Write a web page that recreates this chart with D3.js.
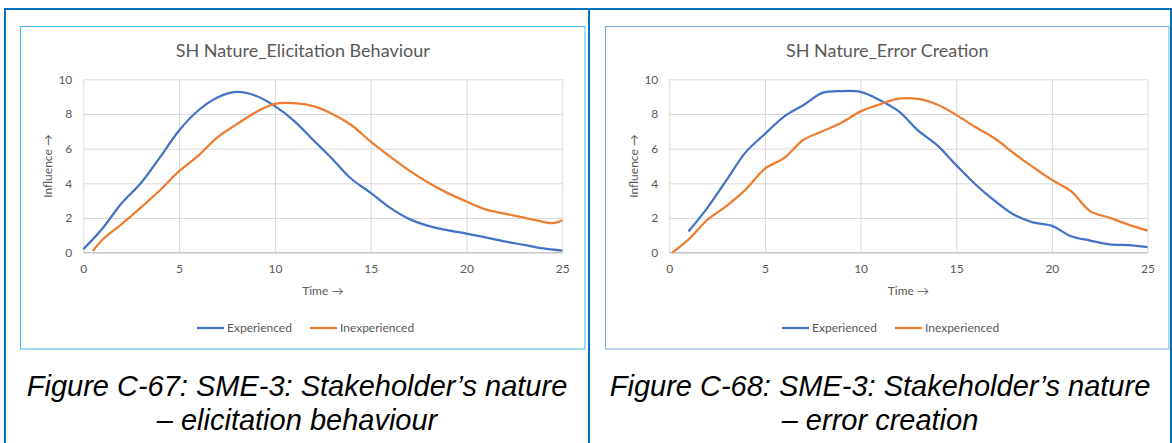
<!DOCTYPE html>
<html lang="en">
<head>
    <meta charset="UTF-8">
    <title>SH Nature</title>
    <script src="https://d3js.org/d3.v7.min.js"></script>
    <style>
        body { margin: 0; background: #fff; }
        .chart-text { font-family: Lato, "Open Sans", sans-serif; fill: #595959; }
        .grid line { stroke: #d9d9d9; stroke-width: 1; }
        .caption { font-family: "Liberation Sans", Arial, sans-serif; font-style: italic; fill: #000; }
    </style>
</head>
<body>
<script>
    const width = 1172;
    const height = 443;

    const xTicks = [0, 5, 10, 15, 20, 25];
    const yTicks = [0, 2, 4, 6, 8, 10];
    const seriesNames = ["Experienced", "Inexperienced"];
    const colors = ["#4472c4", "#ed7d31"];

    // chart 1: elicitation behaviour
    const elicitExpTime = [0, 1, 2, 3, 4, 5, 6, 7, 8, 9, 10, 11, 12, 13, 14, 15, 16, 17, 18, 19, 20, 21, 22, 23, 24, 25];
    const elicitExp = [0.2, 1.4, 2.85, 4.0, 5.5, 7.05, 8.2, 8.95, 9.27, 9.05, 8.45, 7.6, 6.5, 5.4, 4.25, 3.45, 2.6, 1.95, 1.55, 1.3, 1.1, 0.88, 0.65, 0.45, 0.25, 0.12];
    const elicitInexpTime = [0.5, 1, 2, 3, 4, 5, 6, 7, 8, 9, 10, 11, 12, 13, 14, 15, 16, 17, 18, 19, 20, 21, 22, 23, 24, 24.5, 25];
    const elicitInexp = [0.1, 0.75, 1.65, 2.6, 3.6, 4.7, 5.6, 6.65, 7.4, 8.1, 8.58, 8.62, 8.45, 8.0, 7.35, 6.4, 5.55, 4.75, 4.05, 3.45, 2.95, 2.5, 2.25, 2.02, 1.78, 1.7, 1.87];

    // chart 2: error creation
    const errorExpTime = [1, 2, 3, 4, 5, 6, 7, 8, 9, 10, 11, 12, 13, 14, 15, 16, 17, 18, 19, 20, 21, 22, 23, 24, 25];
    const errorExp = [1.22, 2.6, 4.2, 5.8, 6.85, 7.85, 8.5, 9.22, 9.32, 9.27, 8.8, 8.15, 7.05, 6.2, 5.05, 3.95, 3.0, 2.2, 1.75, 1.55, 0.95, 0.7, 0.48, 0.43, 0.32];
    const errorInexpTime = [0.15, 1, 2, 3, 4, 5, 6, 7, 8, 9, 10, 11, 12, 13, 14, 15, 16, 17, 18, 19, 20, 21, 22, 23, 24, 25];
    const errorInexp = [0, 0.75, 1.9, 2.7, 3.65, 4.85, 5.45, 6.5, 7.0, 7.5, 8.15, 8.55, 8.88, 8.87, 8.55, 7.95, 7.25, 6.6, 5.75, 4.95, 4.2, 3.55, 2.4, 2.02, 1.62, 1.27];

    const svg = d3.select("body").append("svg")
            .attr("width", width).attr("height", height);

    // outer table lines
    const tableColor = "#0070c0";
    svg.append("line").attr("x1", 4).attr("x2", width).attr("y1", 9).attr("y2", 9)
            .attr("stroke", tableColor).attr("stroke-width", 2);
    [5, 589, 1171].forEach(x => {
        svg.append("line").attr("x1", x).attr("x2", x).attr("y1", 8).attr("y2", height)
                .attr("stroke", tableColor).attr("stroke-width", 2);
    });

    const panels = [
        {
            box: [20.5, 26.5, 585, 349], border: "#45b9ec",
            plot: [83.3, 562.3],
            title: "SH Nature_Elicitation Behaviour",
            series: [[elicitExpTime, elicitExp], [elicitInexpTime, elicitInexp]],
            legendX: 197,
            caption: ["Figure C-67: SME-3: Stakeholder\u2019s nature", "\u2013 elicitation behaviour"],
            captionX: 297
        },
        {
            box: [605.5, 26.5, 1169, 349], border: "#7ea3dc",
            plot: [669.3, 1147.5],
            title: "SH Nature_Error Creation",
            series: [[errorExpTime, errorExp], [errorInexpTime, errorInexp]],
            legendX: 782,
            caption: ["Figure C-68: SME-3: Stakeholder\u2019s nature", "\u2013 error creation"],
            captionX: 880
        }
    ];

    panels.forEach(draw);

    function draw(p) {
        const [bx0, by0, bx1, by1] = p.box;
        svg.append("rect")
                .attr("x", bx0).attr("y", by0)
                .attr("width", bx1 - bx0).attr("height", by1 - by0)
                .attr("fill", "#fff").attr("stroke", p.border).attr("stroke-width", 1);

        const x = d3.scaleLinear().domain([0, 25]).range(p.plot);
        const y = d3.scaleLinear().domain([0, 10]).range([252.7, 79.3]);
        const plotW = p.plot[1] - p.plot[0];
        const plotH = y(0) - y(10);

        // gridlines + tick labels
        const yAxis = svg.append("g")
                .attr("class", "grid")
                .attr("transform", `translate(${p.plot[0]},0)`)
                .call(d3.axisLeft(y).tickValues(yTicks).tickSize(-plotW).tickPadding(11));
        const xAxis = svg.append("g")
                .attr("class", "grid")
                .attr("transform", `translate(0,${y(0)})`)
                .call(d3.axisBottom(x).tickValues(xTicks).tickSize(-plotH).tickPadding(12));
        [yAxis, xAxis].forEach(a => {
            a.select(".domain").remove();
            a.selectAll("text").attr("class", "chart-text").style("font-size", "12px");
        });

        svg.append("line")
                .attr("x1", p.plot[0]).attr("x2", p.plot[1])
                .attr("y1", y(0)).attr("y2", y(0))
                .attr("stroke", "#bfbfbf").attr("stroke-width", 1);

        // series
        const line = d3.line()
                .x(d => x(d[0]))
                .y(d => y(d[1]))
                .curve(d3.curveCatmullRom.alpha(0.5));

        p.series.forEach((s, i) => {
            svg.append("path")
                    .datum(d3.zip(s[0], s[1]))
                    .attr("fill", "none")
                    .attr("stroke", colors[i])
                    .attr("stroke-width", 2.25)
                    .attr("stroke-linejoin", "round")
                    .attr("d", line);
        });

        // titles
        const cx = (p.plot[0] + p.plot[1]) / 2;
        svg.append("text").attr("class", "chart-text")
                .attr("x", (bx0 + bx1) / 2).attr("y", 57)
                .attr("text-anchor", "middle")
                .style("font-size", "18px")
                .text(p.title);
        svg.append("text").attr("class", "chart-text")
                .attr("x", cx).attr("y", 295)
                .attr("text-anchor", "middle")
                .style("font-size", "12px")
                .text("Time \u2192");
        svg.append("text").attr("class", "chart-text")
                .attr("transform", `translate(${p.plot[0] - 31},${(y(0) + y(10)) / 2}) rotate(-90)`)
                .attr("text-anchor", "middle")
                .style("font-size", "12px")
                .text("Influence \u2192");

        // legend
        const legend = svg.append("g").attr("transform", `translate(${p.legendX},328)`);
        let lx = 0;
        seriesNames.forEach((name, i) => {
            legend.append("line")
                    .attr("x1", lx).attr("x2", lx + 27)
                    .attr("stroke", colors[i]).attr("stroke-width", 2.25);
            const t = legend.append("text").attr("class", "chart-text")
                    .attr("x", lx + 30).attr("y", 4)
                    .style("font-size", "12px")
                    .text(name);
            lx += 30 + t.node().getComputedTextLength() + 18;
        });

        // figure caption
        p.caption.forEach((c, i) => {
            svg.append("text").attr("class", "caption")
                    .attr("x", p.captionX).attr("y", 396 + i * 34)
                    .attr("text-anchor", "middle")
                    .style("font-size", "29px")
                    .text(c);
        });
    }
</script>
</body>
</html>
